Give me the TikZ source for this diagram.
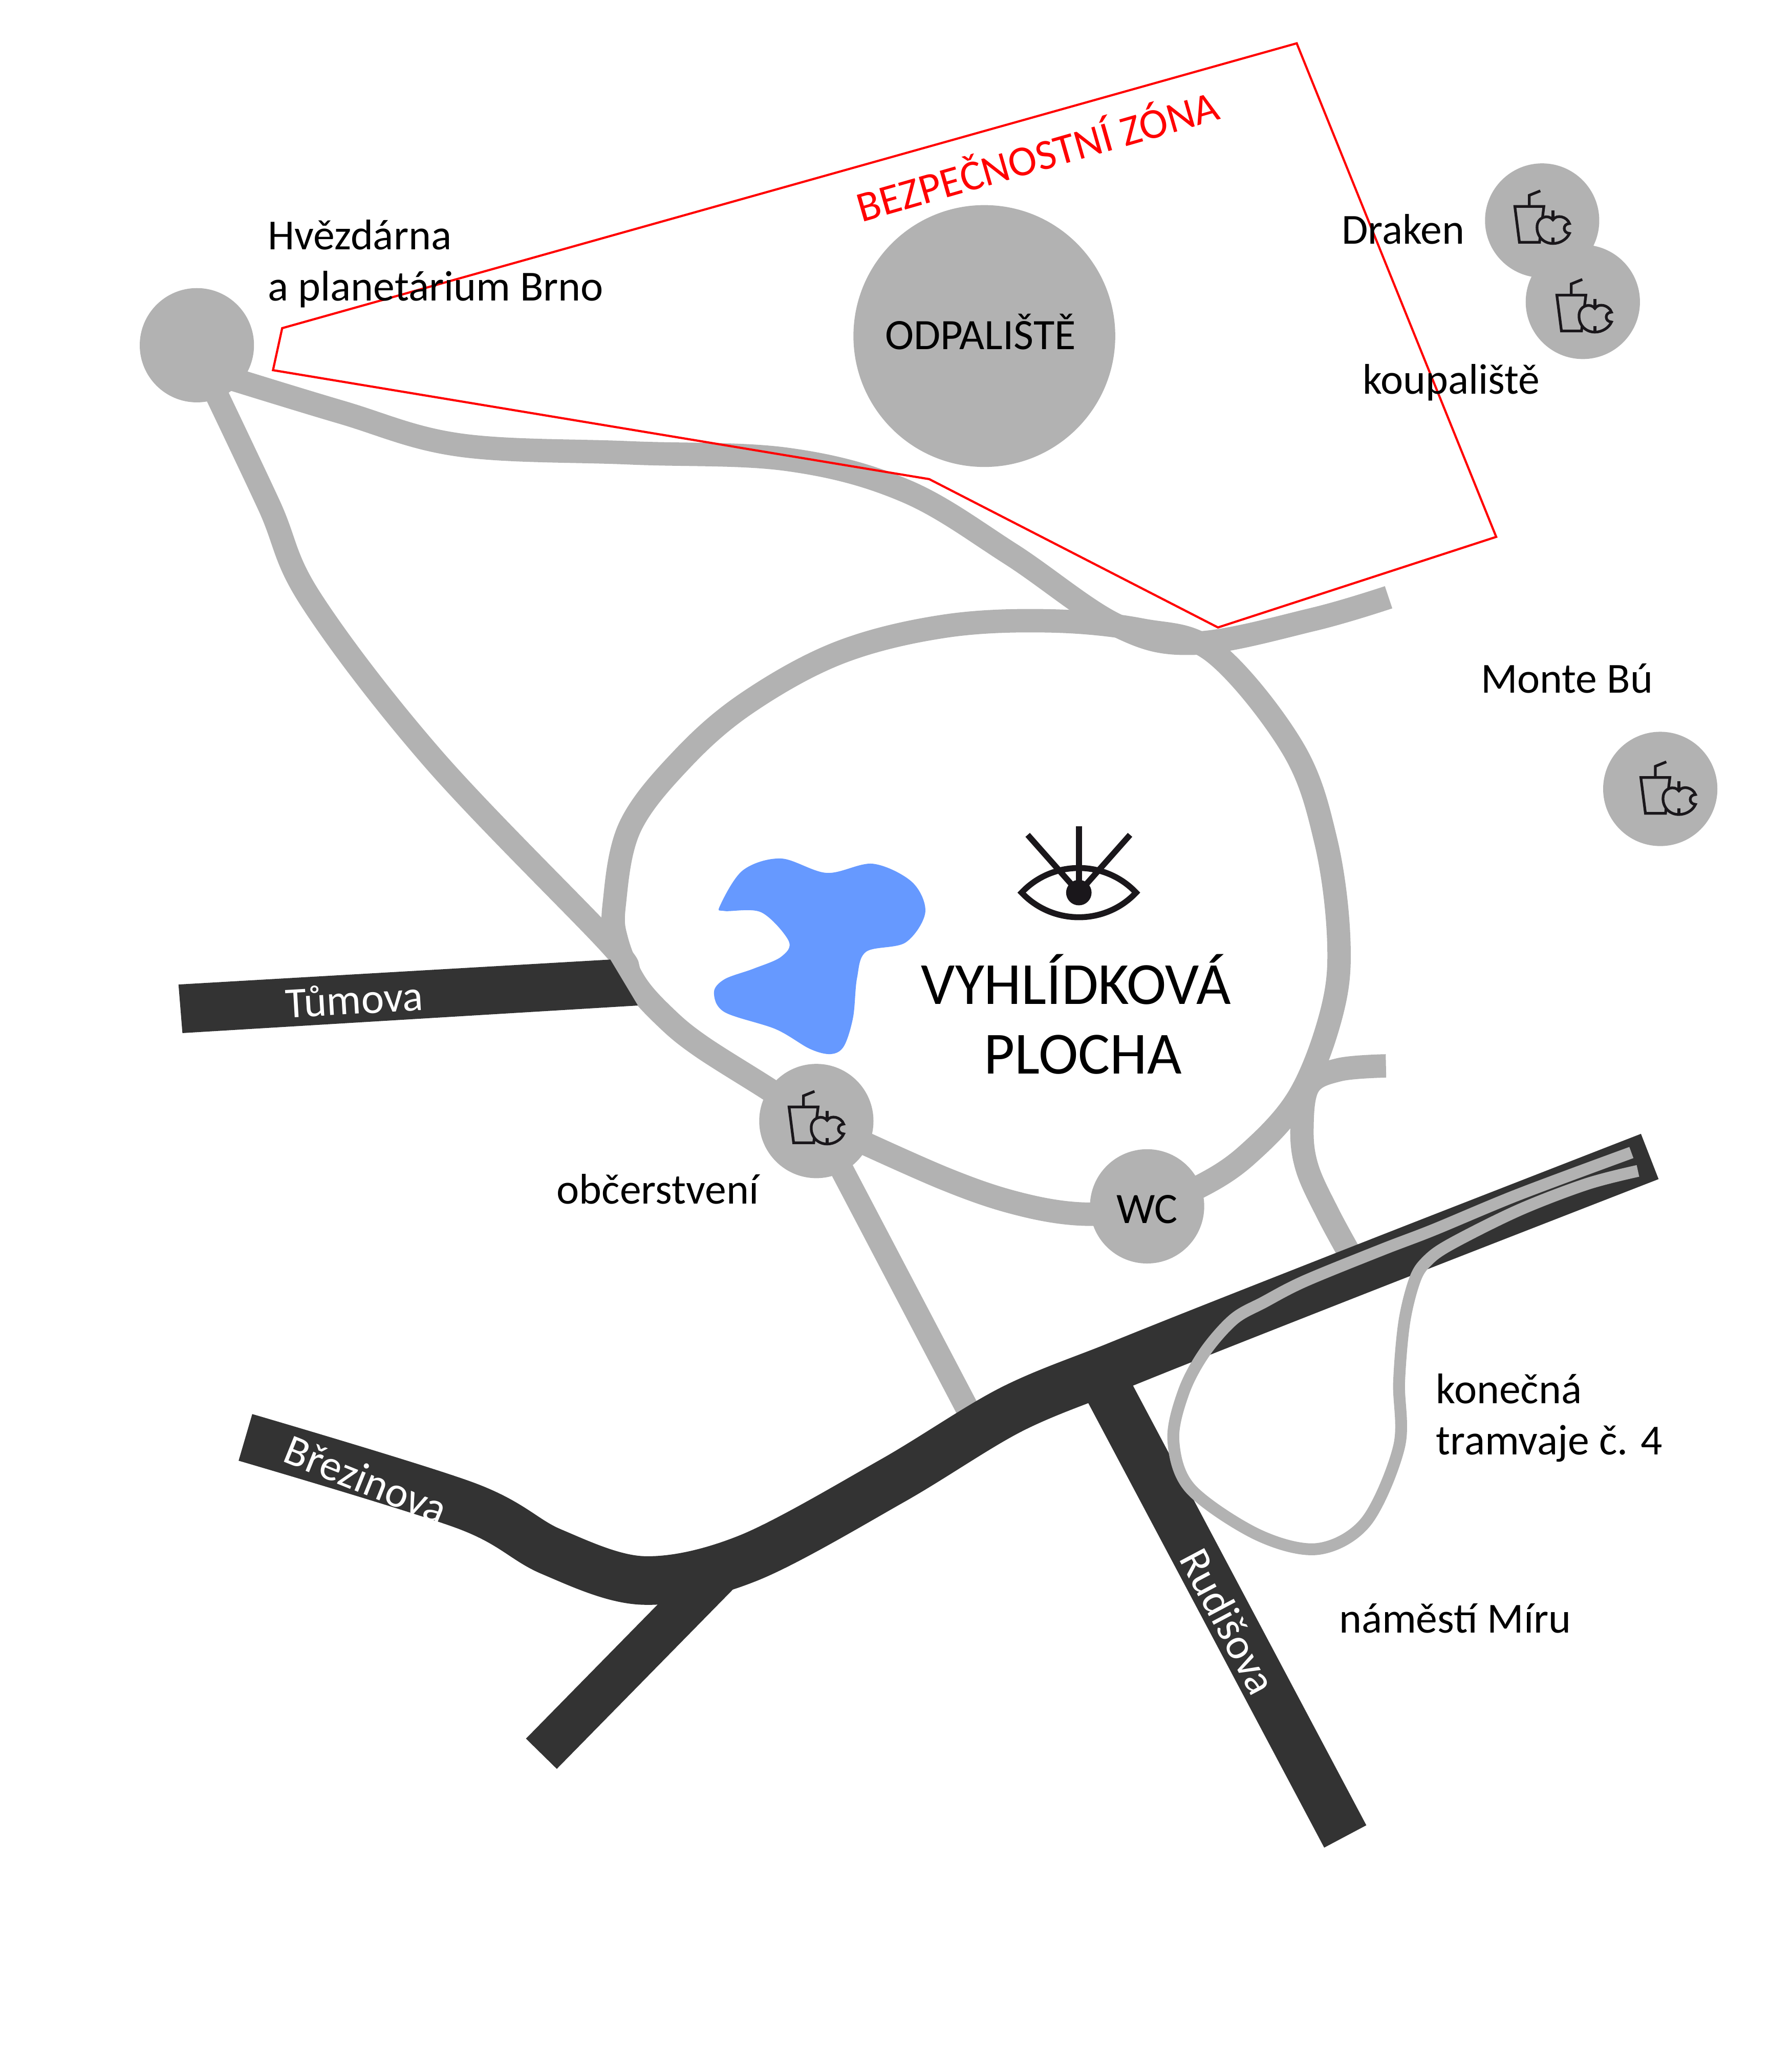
\documentclass[tikz,border=0pt]{standalone}
\usepackage{fontspec}
\setmainfont{Carlito}
\usetikzlibrary{positioning}
\definecolor{trailgray}{HTML}{B2B2B2}
\definecolor{roaddark}{HTML}{333333}
\definecolor{lakeblue}{HTML}{6699FF}
\definecolor{iconblack}{HTML}{1A171B}
\tikzset
{
    spot/.style = {circle, fill=trailgray, draw=none, inner sep=0pt, minimum size=63.5pt},
    trail/.style = {draw=trailgray, line width=13pt},
    road/.style = {draw=roaddark, line width=27pt, line join=round},
    tram/.style = {draw=trailgray, line width=6.6pt, line join=round},
    zone/.style = {draw=red, line width=1.2pt, line join=miter},
    label/.style = {inner sep=0pt, font=\fontsize{23.8}{29}\selectfont, align=left, anchor=base west},
    biglabel/.style = {inner sep=0pt, font=\fontsize{33.2}{40}\selectfont, anchor=base},
    midlabel/.style = {inner sep=0pt, font=\fontsize{24.1}{29}\selectfont, anchor=base},
    streetlabel/.style = {inner sep=0pt, text=white, font=\fontsize{24}{29}\selectfont},
    food/.pic = {
        \begin{scope}[draw=iconblack, line width=1.5pt]
            \draw (-20.8,-10.7) -- (1.3,-10.7) -- (-2,16.6) -- (-17.3,16.6) -- cycle;
            \draw (-9.8,-10.7) -- (-9.8,-19.2) -- (-1.4,-22.6);
            \fill[trailgray] (20.8,2.3) .. controls (19,-3) and (11,-5) .. (8.2,-0.5)
                .. controls (5,-5) and (-4,-3) .. (-3.9,5.2)
                .. controls (-4,12) and (1,17.5) .. (8.2,17.5)
                .. controls (14,17.5) and (19,14) .. (20.8,9.8)
                .. controls (15.5,9.5) and (15.5,2.5) .. cycle;
            \draw (20.8,2.3) .. controls (19,-3) and (11,-5) .. (8.2,-0.5)
                .. controls (5,-5) and (-4,-3) .. (-3.9,5.2)
                .. controls (-4,12) and (1,17.5) .. (8.2,17.5)
                .. controls (14,17.5) and (19,14) .. (20.8,9.8)
                .. controls (15.5,9.5) and (15.5,2.5) .. cycle;
            \draw (8.2,-7.8) -- (8.2,-0.5);
            \draw (8.2,13) -- (8.2,17.5);
        \end{scope}
    }
}
\begin{document}
\begin{tikzpicture}[x=0.02564cm, y=-0.02564cm]
    \useasboundingbox (0,0) rectangle (1365,1567.8);

    % spots
    \node[spot] (hvezdarna) at (150,263) {};
    \node[spot, minimum size=145.5pt] (odpaliste) at (750,256) {};
    \node[spot] (draken) at (1175,168) {};
    \node[spot] (koupaliste) at (1206,230) {};
    \node[spot] (montebu) at (1265,601) {};
    \node[spot] (obcerstveni) at (622,854) {};
    \node[spot] (wc) at (874,919) {};

    % paths in the park
    \draw[trail] plot[smooth, tension=0.6] coordinates {(165,285) (260,314) (350,339) (480,345) (600,350) (690,374) (770,422) (850,476) (910,490) (1000,472) (1058,455)};
    \draw[trail] plot[smooth, tension=0.6] coordinates {(160,290) (205,385) (237,457) (330,578) (463,717) (475,735)};
    \draw[trail] plot[smooth, tension=0.6] coordinates {(obcerstveni.center) (586,830) (534,797) (507,775) (484,749) (470,717) (468,689) (480,630) (520,578) (570,535) (640,497) (720,477) (800,473) (870,480) (925,497) (985,570) (1010,640) (1020,715) (1015,770) (990,835) (950,880) (912,905) (wc.center)};
    \draw[trail] plot[smooth, tension=0.6] coordinates {(wc.center) (830,925) (780,918) (720,898) (obcerstveni.center)};
    \draw[trail] plot[smooth, tension=0.6] coordinates {(1056,812) (1020,815) (997,827) (992,860) (996,890) (1012,925) (1030,958)};
    \draw[trail] (obcerstveni.center) -- (738,1075);

    % lake
    \fill[lakeblue] plot[smooth cycle, tension=0.55] coordinates {(548.6,690) (566,663) (595,654) (630,665) (665,658) (695,672) (705,695) (690,718) (660,725) (653,745) (650,775) (643,797) (633,803) (617,799) (591,784) (552,771) (544,756) (552,746) (574,738) (595,729) (601,717) (580,695) (552,694)};

    % streets
    \draw[road] plot[smooth, tension=0.55] coordinates {(187,1095) (355,1147) (420,1182) (490,1204) (570,1187) (680,1128) (770,1074) (850,1041) (930,1009) (1080,950) (1257,881)};
    \draw[road, line width=24pt] (548,1198) -- (412.5,1336);
    \draw[road, line width=26.5pt] (840,1050.5) -- (1025,1399);
    \fill[roaddark] (136,750) -- (465,731) -- (486,766) -- (139,787) -- cycle;

    % tram loop
    \draw[tram] plot[smooth, tension=0.55] coordinates {(1243,878) (1157,910) (1092,937) (1053,952) (994,976) (963,992) (940,1005) (918,1030) (902,1060) (894,1097) (907,1134) (958,1169) (1004,1180) (1041,1159) (1066,1102) (1066,1053) (1070,1007) (1078,975) (1087,961) (1105,948) (1157,922) (1209,902) (1248,892)};

    % safety zone
    \draw[zone] (988,33) -- (1140,409) -- (928,478) -- (708,365) -- (208,282) -- (215,250) -- cycle;

    % icons
    \pic at (draken) {food};
    \pic at (1207,235.5) {food};
    \pic at (1271,603) {food};
    \pic at (obcerstveni) {food};
    \begin{scope}[shift={(822,680)}, draw=iconblack, line width=3.3pt]
        \draw (-43.6,0) .. controls (-20,-25) and (20,-25) .. (43.6,0) .. controls (20,25) and (-20,25) .. cycle;
        \draw (0,-50.7) -- (0,0);
        \draw (-39,-44) -- (0,0);
        \draw (39,-44) -- (0,0);
        \fill[iconblack] (0,0) circle (9.7);
    \end{scope}

    % labels
    \node[label] (hvezdarnatext) at (204,190) {Hvězdárna};
    \node[label] (planetariumtext) at (204,229) {a planetárium Brno};
    \node[label] (drakentext) at (1022,186) {Draken};
    \node[label] (koupalistetext) at (1038,300) {koupaliště};
    \node[label] (montebutext) at (1128,528) {Monte Bú};
    \node[label] (konecnatext) at (1094,1069) {konečná};
    \node[label] (tramvajetext) at (1094,1108) {tramvaje č. 4};
    \node[label] (namestitext) at (1020,1244) {náměstí Míru};
    \node[label] (obcerstvenitext) at (424,917) {občerstvení};
    \node[midlabel] (odpalistetext) at (747,266) {ODPALIŠTĚ};
    \node[midlabel] (wctext) at (874,932) {WC};
    \node[biglabel] (vyhlidkovatext) at (820,765) {VYHLÍDKOVÁ};
    \node[biglabel] (plochatext) at (825,818) {PLOCHA};
    \node[inner sep=0pt, text=red, font=\fontsize{23.8}{29}\selectfont, rotate=16] (zonetext) at (790,117) {BEZPEČNOSTNÍ ZÓNA};
    \node[streetlabel, rotate=3.3] (tumovatext) at (270,761) {Tůmova};
    \node[streetlabel, rotate=-22] (brezinovatext) at (279,1127) {Březinova};
    \node[streetlabel, rotate=-62] (rudisovatext) at (936,1235) {Rudišova};
\end{tikzpicture}
\end{document}
